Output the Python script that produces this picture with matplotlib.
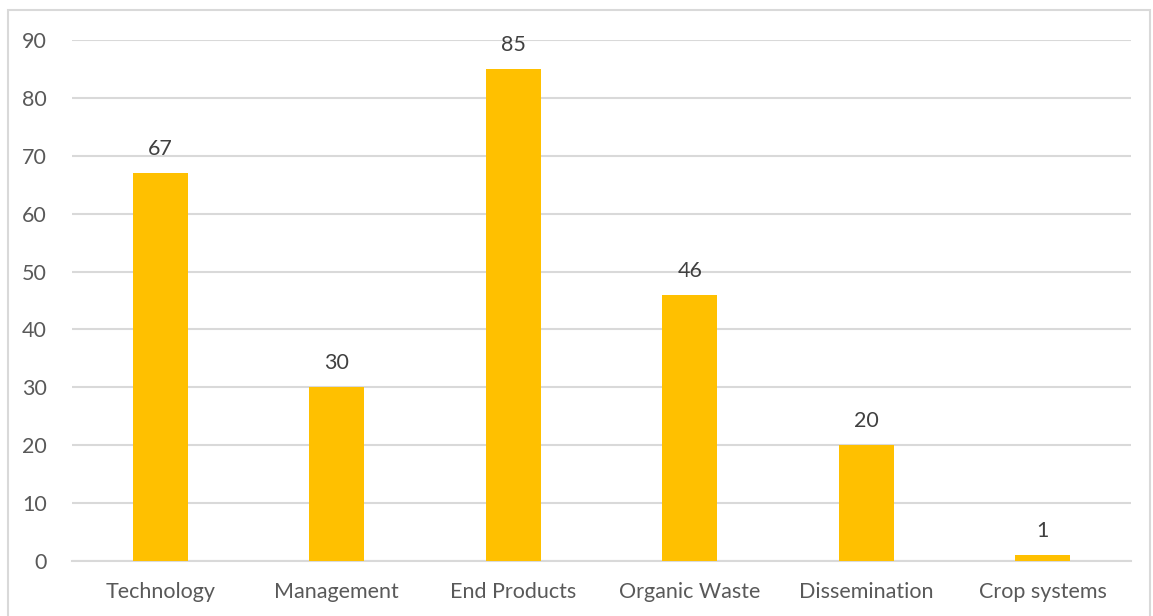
import matplotlib
matplotlib.use("Agg")
import matplotlib.pyplot as plt
from matplotlib.patches import Rectangle

categories = ["Technology", "Management", "End Products", "Organic Waste",
              "Dissemination", "Crop systems"]
counts = [67, 30, 85, 46, 20, 1]
yticks = [0, 10, 20, 30, 40, 50, 60, 70, 80, 90]

plt.rcParams["font.family"] = ["Lato", "DejaVu Sans"]
text_color = "#595959"
grid_color = "#D9D9D9"

fig = plt.figure(figsize=(11.53, 6.16), dpi=100)
ax = fig.add_axes([0.0624, 0.0893, 0.981 - 0.0624, 0.935 - 0.0893])

# outer chart frame
fig.patches.append(Rectangle((8 / 1153, -0.01), 1142 / 1153, 1 - 10 / 616 + 0.01,
                             transform=fig.transFigure, fill=False,
                             edgecolor=grid_color, linewidth=1.5))

x = range(len(categories))
bars = ax.bar(x, counts, width=0.31, color="#FFC000", zorder=3)

for b, v in zip(bars, counts):
    ax.annotate(str(v), (b.get_x() + b.get_width() / 2, v),
                xytext=(0, 10), textcoords="offset points",
                ha="center", va="bottom", fontsize=15.5, color="#404040")

ax.set_xlim(-0.5, len(categories) - 0.5)
ax.set_ylim(0, 90)
ax.set_yticks(yticks)
ax.set_xticks(list(x))
ax.set_xticklabels(categories)
ax.tick_params(axis="both", length=0, labelsize=15.5, labelcolor=text_color)
ax.tick_params(axis="y", pad=18)
ax.tick_params(axis="x", pad=15)
ax.grid(axis="y", color=grid_color, linewidth=1.5, zorder=0)
for s in ["top", "right", "left"]:
    ax.spines[s].set_visible(False)
ax.spines["bottom"].set_color(grid_color)
ax.spines["bottom"].set_linewidth(1.5)

fig.savefig("out.png", dpi=100)
